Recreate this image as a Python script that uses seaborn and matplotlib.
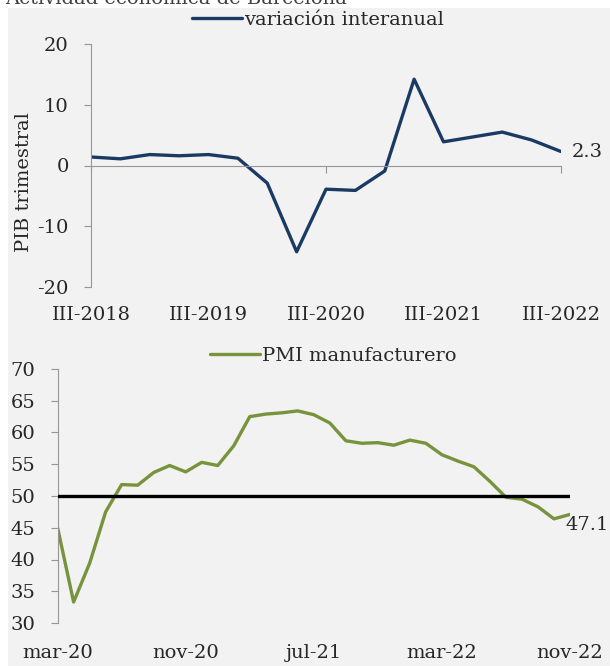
import matplotlib
matplotlib.use('Agg')
import matplotlib.pyplot as plt
from matplotlib.patches import Rectangle
import seaborn as sns
import pandas as pd

# quarterly GDP (year-on-year change)
quarters = ['III-2018', 'IV-2018', 'I-2019', 'II-2019', 'III-2019', 'IV-2019',
            'I-2020', 'II-2020', 'III-2020', 'IV-2020', 'I-2021', 'II-2021',
            'III-2021', 'IV-2021', 'I-2022', 'II-2022', 'III-2022']
pib = [1.4, 1.1, 1.8, 1.6, 1.8, 1.2, -2.9, -14.2, -3.9, -4.1, -0.9, 14.2,
       3.9, 4.7, 5.5, 4.2, 2.3]

# monthly manufacturing PMI
months = ['mar-20', 'abr-20', 'may-20', 'jun-20', 'jul-20', 'ago-20', 'sep-20',
          'oct-20', 'nov-20', 'dic-20', 'ene-21', 'feb-21', 'mar-21', 'abr-21',
          'may-21', 'jun-21', 'jul-21', 'ago-21', 'sep-21', 'oct-21', 'nov-21',
          'dic-21', 'ene-22', 'feb-22', 'mar-22', 'abr-22', 'may-22', 'jun-22',
          'jul-22', 'ago-22', 'sep-22', 'oct-22', 'nov-22']
pmi = [45.0, 33.3, 39.4, 47.5, 51.8, 51.7, 53.7, 54.8, 53.8, 55.3, 54.8, 57.9,
       62.5, 62.9, 63.1, 63.4, 62.8, 61.5, 58.7, 58.3, 58.4, 58.0, 58.8, 58.3,
       56.5, 55.5, 54.6, 52.3, 49.8, 49.5, 48.3, 46.4, 47.1]

pib_label_step = 4
pib_tick_step = 8
pmi_label_step = 8
pmi_threshold = 50

BLUE = '#1b3a63'
GREEN = '#77933c'
GRAY = '#969696'
BG = '#f2f2f2'

sns.set_style('white')
plt.rcParams['font.family'] = ['DejaVu Serif']
plt.rcParams['font.size'] = 14
plt.rcParams['axes.unicode_minus'] = False

df_pib = pd.DataFrame({'i': range(len(quarters)), 'pib': pib})
df_pmi = pd.DataFrame({'i': range(len(months)), 'pmi': pmi})

fig = plt.figure(figsize=(6.1, 6.66), dpi=100)
fig.patch.set_facecolor('white')
fig.patches.append(Rectangle((8 / 610, 0), 1, 1 - 8 / 666, transform=fig.transFigure,
                             facecolor=BG, edgecolor='none', zorder=-10))
fig.text(5 / 610, 1 - 4 / 666, 'Actividad económica de Barcelona', va='baseline',
         ha='left', fontsize=14, color='#404040')

# ---- top panel: PIB ----
ax1 = fig.add_axes([91 / 610, 1 - 287 / 666, 470 / 610, 243 / 666])
ax1.set_facecolor('none')
sns.lineplot(data=df_pib, x='i', y='pib', ax=ax1, color=BLUE, linewidth=2.4,
             label='variación interanual')
ax1.set_xlim(0, len(quarters) - 1)
ax1.set_ylim(-20, 20)
ax1.set_yticks([-20, -10, 0, 10, 20])
for s in ['top', 'right']:
    ax1.spines[s].set_visible(False)
ax1.spines['left'].set_color(GRAY)
ax1.spines['bottom'].set_color(GRAY)
ax1.spines['bottom'].set_position(('data', 0))
ax1.set_xticks(range(0, len(quarters), pib_tick_step))
ax1.set_xticklabels([])
ax1.tick_params(axis='x', direction='out', length=5, color=GRAY, bottom=True)
ax1.tick_params(axis='y', direction='out', length=5, color=GRAY, left=True, pad=11)
ax1.set_xlabel('')
ax1.set_ylabel('PIB trimestral')
ax1.yaxis.set_label_coords(-0.123, 0.43)

sec = ax1.secondary_xaxis('bottom')
sec.set_xticks(range(0, len(quarters), pib_label_step))
sec.set_xticklabels(quarters[::pib_label_step])
sec.tick_params(length=0, pad=14)
sec.spines['bottom'].set_visible(False)

ax1.annotate(f'{pib[-1]:.1f}', xy=(len(pib) - 1, pib[-1]), xytext=(8, 0),
             textcoords='offset points', va='center', ha='left')
ax1.legend(loc='center', bbox_to_anchor=(0.483, 1.1), frameon=False,
           handlelength=2.6, handletextpad=0.1, fontsize=14)

# ---- bottom panel: PMI ----
ax2 = fig.add_axes([57.6 / 610, 1 - 623 / 666, 512.4 / 610, 254 / 666])
ax2.set_facecolor('none')
sns.lineplot(data=df_pmi, x='i', y='pmi', ax=ax2, color=GREEN, linewidth=2.4,
             label='PMI manufacturero')
ax2.axhline(pmi_threshold, color='black', linewidth=2.4, zorder=3)
ax2.set_xlim(0, len(months) - 1)
ax2.set_ylim(30, 70)
ax2.set_yticks(range(30, 71, 5))
for s in ['top', 'right', 'bottom']:
    ax2.spines[s].set_visible(False)
ax2.spines['left'].set_color(GRAY)
ax2.set_xticks(range(0, len(months), pmi_label_step))
ax2.set_xticklabels(months[::pmi_label_step])
ax2.tick_params(axis='x', length=0, pad=15)
ax2.tick_params(axis='y', direction='out', length=5, color=GRAY, left=True, pad=11)
ax2.set_xlabel('')
ax2.set_ylabel('')

ax2.annotate(f'{pmi[-1]:.1f}', xy=(len(pmi) - 1, pmi[-1]), xytext=(-3, -1),
             textcoords='offset points', va='top', ha='left')
ax2.legend(loc='center', bbox_to_anchor=(0.538, 1.05), frameon=False,
           handlelength=2.6, handletextpad=0.1, fontsize=14)

fig.savefig('out.png', dpi=100, facecolor=fig.get_facecolor())
